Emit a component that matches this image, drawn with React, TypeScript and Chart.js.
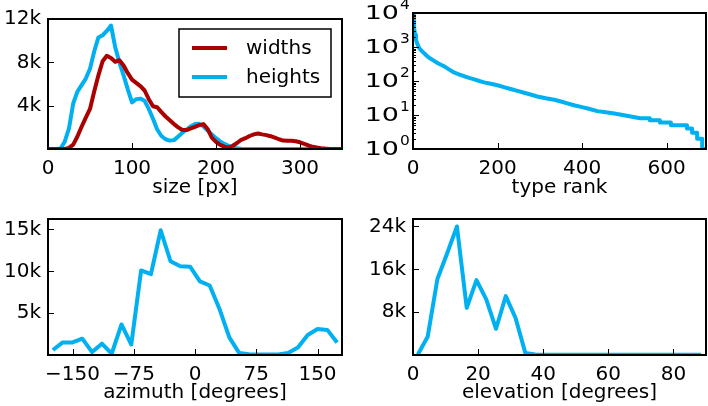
import React, { useEffect, useRef } from 'react';
import { Chart, registerables } from 'chart.js';

Chart.register(...registerables);

const FONT = '"DejaVu Sans", "Liberation Sans", sans-serif';
const RED = '#aa0000';
const BLUE = '#00b0f0';
const TICK_LEN = 6;
const MINOR_LEN = 3;

// ---- word-box size distribution ----
const sizeBins = [
  0, 5, 10, 15, 20, 25, 30, 35, 40, 45, 50, 55, 60, 65, 70, 75, 80, 85, 90, 95,
  100, 105, 110, 115, 120, 125, 130, 135, 140, 145, 150, 155, 160, 165, 170, 175, 180, 185, 190, 195,
  200, 205, 210, 215, 220, 225, 230, 235, 240, 245, 250, 255, 260, 265, 270, 275, 280, 285, 290, 295,
  300, 305, 310, 315, 320, 325, 330, 335, 340, 345, 350,
];
const widthCounts = [
  0, 0, 0, 0, 0, 100, 400, 1150, 2050, 2900, 3700, 5300, 6800, 8100, 8600, 8400, 8050, 8200, 7700, 7000,
  6400, 6100, 5800, 5400, 4600, 3950, 3850, 3400, 3000, 2650, 2300, 2000, 1750, 1750, 1900, 2050, 2200, 2300, 1850, 1050,
  650, 380, 220, 130, 300, 550, 850, 1000, 1200, 1350, 1430, 1350, 1280, 1180, 1050, 900, 780, 760, 760, 720,
  620, 480, 330, 200, 130, 80, 40, 10, 0, 0, 0,
];
const heightCounts = [
  0, 0, 0, 50, 700, 1900, 4200, 5300, 5900, 6500, 7400, 9000, 10300, 10500, 10900, 11400, 9400, 8000, 6800, 5500,
  4300, 4600, 4650, 4450, 3700, 2800, 1800, 1200, 900, 780, 820, 1150, 1500, 1800, 2100, 2300, 2320, 2100, 1700, 1350,
  1000, 700, 470, 290, 150, 60, 20, 0, 0, 0, 0, 0, 0, 0, 0, 0, 0, 0, 0, 0,
  0, 0, 0, 0, 0, 0, 0, 0, 0, 0, 0,
];
const sizeTicks = [0, 100, 200, 300];
const sizeCountTicks = [4000, 8000, 12000];

// ---- type rank / frequency ----
const typeRanks = [
  1, 2, 3, 5, 7, 10, 15, 20, 27, 35, 42, 50, 58, 66, 74, 85, 98, 110, 121, 133,
  145, 157, 168, 184, 200, 215, 231, 247, 263, 278, 294, 314, 334, 350, 365, 383, 400, 418, 436, 456,
  476, 496, 515, 537, 560, 560, 584, 584, 610, 610, 648, 648, 660, 660, 672, 672, 684, 684, 693,
];
const typeCounts = [
  9000, 5200, 3400, 2300, 1650, 1250, 920, 780, 640, 520, 450, 390, 340, 300, 270, 220, 175, 155, 138, 124,
  112, 100, 91, 83, 75, 66, 58, 51, 45, 40, 35, 31, 28, 25, 22, 19, 17, 15, 13, 12,
  11, 10, 9, 8, 8, 7, 7, 6, 6, 5, 5, 4, 4, 3, 3, 2, 2, 1, 1,
];
const rankTicks = [0, 200, 400, 600];
const decadeTicks = [1, 10, 100, 1000, 10000];
const minorMultipliers = [2, 3, 4, 5, 6, 7, 8, 9];

// ---- azimuth ----
const azimuthBins = [
  -174, -162, -150, -138, -126, -114, -102, -90, -78, -66, -54, -42, -30, -18, -6,
  6, 18, 30, 42, 54, 66, 78, 90, 102, 114, 126, 138, 150, 162, 174,
];
const azimuthCounts = [
  600, 1500, 1500, 1950, 350, 1350, 150, 3650, 1250, 10100, 9650, 14900, 11200, 10600, 10550,
  8800, 8300, 5500, 2100, 250, 80, 50, 50, 60, 250, 900, 2400, 3100, 3000, 1500,
];
const azimuthTicks = [-150, -75, 0, 75, 150];
const azimuthCountTicks = [5000, 10000, 15000];

// ---- elevation ----
const elevationBins = [
  1.5, 4.5, 7.5, 10.5, 13.5, 16.5, 19.5, 22.5, 25.5, 28.5, 31.5, 34.5, 37.5, 40.5, 43.5,
  46.5, 49.5, 52.5, 55.5, 58.5, 61.5, 64.5, 67.5, 70.5, 73.5, 76.5, 79.5, 82.5, 85.5, 88.5,
];
const elevationCounts = [
  100, 3400, 14200, 19000, 24000, 8800, 14000, 10400, 4900, 11000, 6900, 400, 100, 60, 50,
  50, 50, 50, 50, 50, 50, 50, 50, 50, 50, 50, 50, 50, 50, 50,
];
const elevationTicks = [0, 20, 40, 60, 80];
const elevationCountTicks = [8000, 16000, 24000];

const points = (xs: number[], ys: number[]) => xs.map((x, i) => ({ x, y: ys[i] }));
const kFormat = (v: number) => `${Math.round(v / 1000)}k`;
const signed = (v: number) => (v < 0 ? `\u2212${Math.abs(v)}` : `${v}`);

// Draws text squeezed or widened horizontally around its right/left anchor.
function stretchedText(ctx: any, text: string, x: number, y: number, sx: number, align: 'left' | 'right') {
  ctx.save();
  ctx.translate(x, y);
  ctx.scale(sx, 1);
  ctx.textAlign = align;
  ctx.fillText(text, 0, 0);
  ctx.restore();
}

// Axes frame, inward tick marks, decade labels and the in-plot legend.
const framePlugin = {
  id: 'frame',
  afterDraw(chart: any, _args: any, opts: any) {
    const { ctx, chartArea: a, scales } = chart;
    const xs = scales.x;
    const ys = scales.y;
    ctx.save();
    ctx.strokeStyle = '#000';
    ctx.lineWidth = 1;
    ctx.beginPath();
    for (const t of xs.ticks) {
      const px = Math.round(xs.getPixelForValue(t.value)) + 0.5;
      ctx.moveTo(px, a.bottom);
      ctx.lineTo(px, a.bottom - TICK_LEN);
    }
    for (const t of ys.ticks) {
      const py = Math.round(ys.getPixelForValue(t.value)) + 0.5;
      ctx.moveTo(a.left, py);
      ctx.lineTo(a.left + TICK_LEN, py);
    }
    if (opts.minor) {
      for (const v of opts.minor as number[]) {
        const py = Math.round(ys.getPixelForValue(v)) + 0.5;
        ctx.moveTo(a.left, py);
        ctx.lineTo(a.left + MINOR_LEN, py);
      }
    }
    ctx.stroke();

    ctx.lineWidth = 2;
    ctx.strokeRect(a.left, a.top, a.right - a.left, a.bottom - a.top);

    if (opts.decades) {
      ctx.fillStyle = '#000';
      ctx.textBaseline = 'alphabetic';
      for (const t of ys.ticks) {
        const py = ys.getPixelForValue(t.value);
        const exp = Math.round(Math.log10(t.value));
        ctx.font = `20px ${FONT}`;
        stretchedText(ctx, '10', a.left - 14, py + 6, 1.35, 'right');
        ctx.font = `14px ${FONT}`;
        stretchedText(ctx, String(exp), a.left - 13, py - 4, 1.1, 'left');
      }
    }

    if (opts.legend) {
      const bx = a.right - 163;
      const by = a.top + 10;
      const bw = 152;
      const bh = 68;
      ctx.fillStyle = '#fff';
      ctx.fillRect(bx, by, bw, bh);
      ctx.lineWidth = 1.5;
      ctx.strokeStyle = '#000';
      ctx.strokeRect(bx, by, bw, bh);
      chart.data.datasets.forEach((ds: any, i: number) => {
        const ry = by + 19 + i * 29;
        ctx.strokeStyle = ds.borderColor;
        ctx.lineWidth = 4;
        ctx.beginPath();
        ctx.moveTo(bx + 13, ry);
        ctx.lineTo(bx + 48, ry);
        ctx.stroke();
        ctx.fillStyle = '#000';
        ctx.font = `20px ${FONT}`;
        ctx.textAlign = 'left';
        ctx.textBaseline = 'alphabetic';
        ctx.fillText(ds.label, bx + 67, ry + 6);
      });
    }
    ctx.restore();
  },
};

function xAxis(min: number, max: number, ticks: number[], title: string, titlePad: number, type = 'linear') {
  return {
    type,
    min,
    max,
    grid: { display: false, drawTicks: false },
    border: { display: false },
    ticks: {
      color: '#000',
      font: { family: FONT, size: 20 },
      padding: 8,
      maxRotation: 0,
      autoSkip: false,
      callback: (v: number) => signed(v),
    },
    afterBuildTicks: (s: any) => {
      s.ticks = ticks.map((v) => ({ value: v }));
    },
    afterFit: (s: any) => {
      s.height = 51;
    },
    title: {
      display: true,
      text: title,
      color: '#000',
      font: { family: FONT, size: 20 },
      padding: { top: 0, bottom: titlePad },
    },
  };
}

function yAxis(min: number, max: number, ticks: number[], width: number, type = 'linear', showLabels = true) {
  return {
    type,
    min,
    max,
    grid: { display: false, drawTicks: false },
    border: { display: false },
    ticks: {
      display: showLabels,
      color: '#000',
      font: { family: FONT, size: 20 },
      padding: 7,
      autoSkip: false,
      callback: (v: number) => kFormat(v),
    },
    afterBuildTicks: (s: any) => {
      s.ticks = ticks.map((v) => ({ value: v }));
    },
    afterFit: (s: any) => {
      s.width = width;
    },
  };
}

function lineSet(label: string, xs: number[], ys: number[], color: string) {
  return {
    label,
    data: points(xs, ys),
    borderColor: color,
    backgroundColor: color,
    borderWidth: 4,
    pointRadius: 0,
    tension: 0,
    fill: false,
    borderJoinStyle: 'round',
    clip: 0,
  };
}

function baseOptions(padding: any, scales: any, frame: any) {
  return {
    responsive: false,
    animation: false,
    devicePixelRatio: 1,
    events: [],
    layout: { padding },
    parsing: false,
    normalized: true,
    scales,
    plugins: {
      legend: { display: false },
      tooltip: { enabled: false },
      frame,
    },
  };
}

const panels = [
  {
    key: 'sizes',
    x: 0,
    y: 0,
    w: 354,
    h: 200,
    config: () => ({
      type: 'line',
      data: {
        datasets: [
          lineSet('widths', sizeBins, widthCounts, RED),
          lineSet('heights', sizeBins, heightCounts, BLUE),
        ],
      },
      options: baseOptions(
        { left: 0, top: 13, right: 12, bottom: 0 },
        {
          x: xAxis(0, 350, sizeTicks, 'size [px]', 0),
          y: yAxis(0, 12000, sizeCountTicks, 48),
        },
        { legend: true }
      ),
      plugins: [framePlugin],
    }),
  },
  {
    key: 'ranks',
    x: 354,
    y: 0,
    w: 354,
    h: 200,
    config: () => ({
      type: 'line',
      data: { datasets: [lineSet('types', typeRanks, typeCounts, BLUE)] },
      options: baseOptions(
        { left: 0, top: 13, right: 2, bottom: 0 },
        {
          x: xAxis(0, 693, rankTicks, 'type rank', 0),
          y: yAxis(1, 10000, decadeTicks, 59, 'logarithmic', false),
        },
        {
          decades: true,
          minor: decadeTicks.slice(0, -1).flatMap((d) => minorMultipliers.map((m) => m * d)),
        }
      ),
      plugins: [framePlugin],
    }),
  },
  {
    key: 'azimuth',
    x: 0,
    y: 200,
    w: 354,
    h: 206,
    config: () => ({
      type: 'line',
      data: { datasets: [lineSet('azimuth', azimuthBins, azimuthCounts, BLUE)] },
      options: baseOptions(
        { left: 0, top: 19, right: 12, bottom: 0 },
        {
          x: xAxis(-180, 180, azimuthTicks, 'azimuth [degrees]', 1),
          y: yAxis(0, 16250, azimuthCountTicks, 48),
        },
        {}
      ),
      plugins: [framePlugin],
    }),
  },
  {
    key: 'elevation',
    x: 354,
    y: 200,
    w: 354,
    h: 206,
    config: () => ({
      type: 'line',
      data: { datasets: [lineSet('elevation', elevationBins, elevationCounts, BLUE)] },
      options: baseOptions(
        { left: 0, top: 19, right: 2, bottom: 0 },
        {
          x: xAxis(0, 90, elevationTicks, 'elevation [degrees]', 1),
          y: yAxis(0, 25400, elevationCountTicks, 59),
        },
        {}
      ),
      plugins: [framePlugin],
    }),
  },
];

function ChartPanel({ x, y, w, h, config }: { x: number; y: number; w: number; h: number; config: () => any }) {
  const ref = useRef<HTMLCanvasElement>(null);
  useEffect(() => {
    if (!ref.current) return;
    const chart = new Chart(ref.current, config());
    return () => chart.destroy();
  }, []);
  return (
    <canvas
      ref={ref}
      width={w}
      height={h}
      style={{ position: 'absolute', left: x, top: y, width: w, height: h, display: 'block' }}
    />
  );
}

export default function App() {
  return (
    <div style={{ position: 'absolute', left: 0, top: 0, width: 708, height: 406, background: '#fff', overflow: 'hidden' }}>
      {panels.map((p) => (
        <ChartPanel key={p.key} x={p.x} y={p.y} w={p.w} h={p.h} config={p.config} />
      ))}
    </div>
  );
}
